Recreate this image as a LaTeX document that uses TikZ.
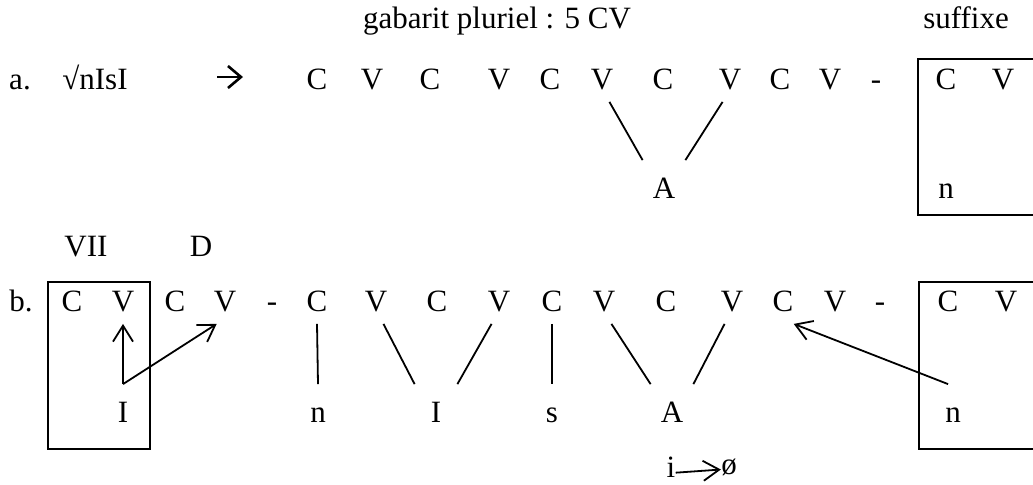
\documentclass[tikz,border=0pt]{standalone}
\usepackage{fontspec}
\setmainfont{Liberation Serif}
\usetikzlibrary{arrows.meta}

\tikzset{
  seg/.style={inner xsep=0pt, inner ysep=6pt, text height=10.5pt, text depth=0pt},
  mel/.style={inner xsep=0pt, inner ysep=8.5pt, minimum width=21pt, text height=10.5pt, text depth=0pt},
  txt/.style={inner sep=0pt, text height=10.5pt, text depth=0pt},
  assoc/.style={line width=0.9pt},
  spread/.style={line width=0.9pt, -{Straight Barb[length=8pt,width=10pt]}},
  slot/.style={line width=0.6pt}
}

\begin{document}
\begin{tikzpicture}[x=0.5pt, y=-0.5pt, font=\fontsize{15.5}{18}\selectfont]
\useasboundingbox (0,0) rectangle (1033,484);

% headings
\node[txt] (gab) at (497,18) {gabarit pluriel : 5 CV};
\node[txt] (suf) at (966,18) {suffixe};

% (a) root and template
\node[txt] (la) at (20,79) {a.};
\node[txt] (root) at (95,79) {√nIsI};
\coordinate (der0) at (217,77);
\coordinate (der1) at (243,77);
\draw[line width=1.3pt, -{Straight Barb[length=6.5pt,width=11pt]}] (der0) -- (der1);
\node[seg] (ca1) at (317,79) {C};
\node[seg] (va1) at (372,79) {V};
\node[seg] (ca2) at (430,79) {C};
\node[seg] (va2) at (499,79) {V};
\node[seg] (ca3) at (550,79) {C};
\node[seg] (va3) at (602,79) {V};
\node[seg] (ca4) at (663,79) {C};
\node[seg] (va4) at (730,79) {V};
\node[seg] (ca5) at (780,79) {C};
\node[seg] (va5) at (830,79) {V};
\node[txt] (da) at (876,79) {-};
\node[seg] (csa) at (946,79) {C};
\node[seg] (vsa) at (1003,79) {V};
\node[mel] (aa) at (664,188) {A};
\node[mel] (na) at (946,188) {n};
\draw[assoc] (va3.-72) -- (aa.north west);
\draw[assoc] (va4.-108) -- (aa.north east);
\coordinate (sa1) at (1040,59);
\coordinate (sa2) at (918,215);
\draw[slot] (sa1) -| (sa2) -- (sa1 |- sa2);

% (b) full form
\node[txt] (vii) at (86,246) {VII};
\node[txt] (dd) at (201,246) {D};
\node[txt] (lb) at (21,301) {b.};
\node[seg] (ck) at (72,301) {C};
\node[seg] (vk) at (123,301) {V};
\node[seg] (cd) at (175,301) {C};
\node[seg] (vd) at (225,301) {V};
\node[txt] (db1) at (272,301) {-};
\node[seg] (cb1) at (317,301) {C};
\node[seg] (vb1) at (376,301) {V};
\node[seg] (cb2) at (437,301) {C};
\node[seg] (vb2) at (499,301) {V};
\node[seg] (cb3) at (552,301) {C};
\node[seg] (vb3) at (604,301) {V};
\node[seg] (cb4) at (666,301) {C};
\node[seg] (vb4) at (732,301) {V};
\node[seg] (cb5) at (783,301) {C};
\node[seg] (vb5) at (835,301) {V};
\node[txt] (db2) at (880,301) {-};
\node[seg] (csb) at (948,301) {C};
\node[seg] (vsb) at (1006,301) {V};

\node[mel] (ik) at (123,412) {I};
\node[mel] (nb) at (318,412) {n};
\node[mel] (ib) at (436,412) {I};
\node[mel] (sb) at (552,412) {s};
\node[mel] (ab) at (672,412) {A};
\node[mel] (nsb) at (953,412) {n};

\draw[assoc] (cb1.south) -- (nb.north);
\draw[assoc] (vb1.-72) -- (ib.north west);
\draw[assoc] (vb2.-108) -- (ib.north east);
\draw[assoc] (cb3.south) -- (sb.north);
\draw[assoc] (vb3.-72) -- (ab.north west);
\draw[assoc] (vb4.-108) -- (ab.north east);
\draw[spread] (ik.north) -- (vk.south);
\draw[spread] (ik.north) -- (vd.-110);
\draw[spread] (nsb.100) -- (cb5.south east);

\coordinate (kb1) at (48,282);
\coordinate (kb2) at (150,449);
\draw[slot] (kb1) rectangle (kb2);
\coordinate (sb1) at (1040,282);
\coordinate (sb2) at (919,449);
\draw[slot] (sb1) -| (sb2) -- (sb1 |- sb2);

% i > zero
\node[inner sep=0pt] (iv) at (671,467) {i};
\node[inner sep=0pt] (zero) at (729,467) {ø};
\draw[spread] (iv.mid east) -- (zero.mid west);
\end{tikzpicture}
\end{document}
